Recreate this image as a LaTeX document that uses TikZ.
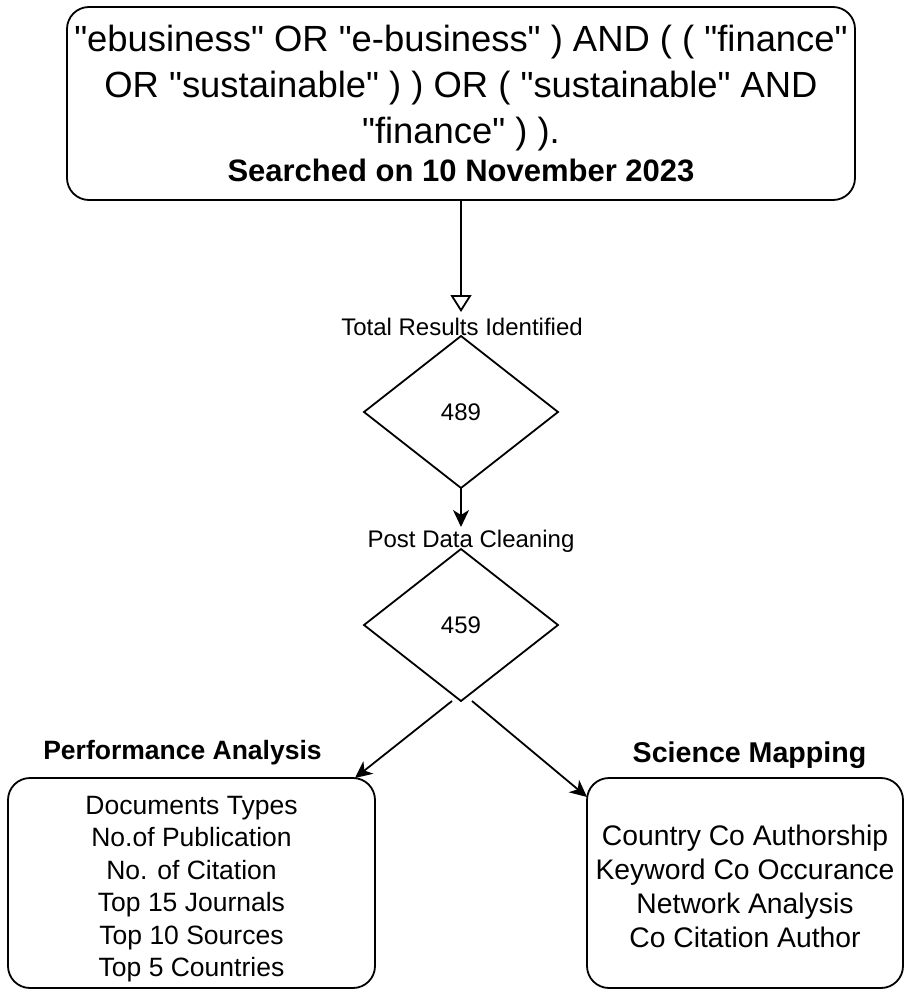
\documentclass[tikz,border=0pt]{standalone}
\usepackage{fontspec}
\setmainfont{Liberation Sans}[Ligatures=TeXOff]
\usetikzlibrary{shapes.geometric,arrows.meta,calc}
\newcommand{\boxlines}[2]{\raisebox{#1}[\height][\depth]{\begin{tabular}{@{}c@{}}#2\end{tabular}}}
\begin{document}
\begin{tikzpicture}[x=1pt,y=-1pt,
  every node/.style={inner sep=0pt, outer sep=0pt},
  box/.style={draw, line width=1.8pt, rounded corners=22pt, align=center},
  dia/.style={draw, diamond, line width=1.8pt, minimum width=194pt, minimum height=152pt, font=\fontsize{24}{29}\selectfont},
  lbl/.style={font=\fontsize{24}{29}\selectfont, anchor=base},
  head/.style={anchor=base, font=\bfseries\fontsize{#1}{#1}\selectfont},
  conn/.style={line width=1.8pt},
  tipopen/.style={-{Triangle[open,length=17pt,width=21pt]}},
  tipfill/.style={-{Stealth[length=17pt,width=16pt,inset=5pt]}}
]
\useasboundingbox (0,0) rectangle (905,990);

\node[box, minimum width=788pt, minimum height=193pt, font=\fontsize{36.4}{46}\selectfont] (query) at (461,103.5)
 {\raisebox{-4pt}[\height][\depth]{\begin{tabular}{@{}c@{}}"ebusiness" OR "e-business" ) AND ( ( "finance"\hspace{7pt}\\
  OR "sustainable" ) ) OR ( "sustainable" AND\\
  "finance" ) ).\\[-8pt]
  {\bfseries\fontsize{31}{38}\selectfont Searched on 10 November 2023}\end{tabular}}};

\node[lbl] (totlbl) at (462,335) {Total Results Identified};
\node[dia] (d1) at (461,412) {489};
\node[lbl] (postlbl) at (471,547) {Post Data Cleaning};
\node[dia] (d2) at (461,625) {459};

\node[head=26.5] (perflbl) at (182.5,759) {Performance Analysis};
\node[head=28.6] (scilbl) at (749.5,762) {Science Mapping};

\node[box, minimum width=367pt, minimum height=210pt, font=\fontsize{26.5}{32.5}\selectfont] (perf) at (191.5,883)
 {\boxlines{-6pt}{Documents Types\\ No.of Publication\\ No. of Citation\\ Top 15 Journals\\ Top 10 Sources\\ Top 5 Countries}};
\node[box, minimum width=316pt, minimum height=210pt, font=\fontsize{28.3}{34}\selectfont] (sci) at (745,883)
 {\boxlines{-7pt}{Country Co Authorship\\ Keyword Co Occurance\\ Network Analysis\\ Co Citation Author}};

\coordinate (t1) at (461,312);
\coordinate (t2) at (461,527);
\draw[conn,tipopen] (query.south) -- (t1);
\draw[conn,tipfill] (d1.south) -- (t2);
\draw[conn,tipfill] ([xshift=-9pt]d2.south) -- ([xshift=-20pt]perf.north east);
\draw[conn,tipfill] ([xshift=11pt]d2.south) -- ([yshift=-19pt]sci.north west);
\end{tikzpicture}
\end{document}
